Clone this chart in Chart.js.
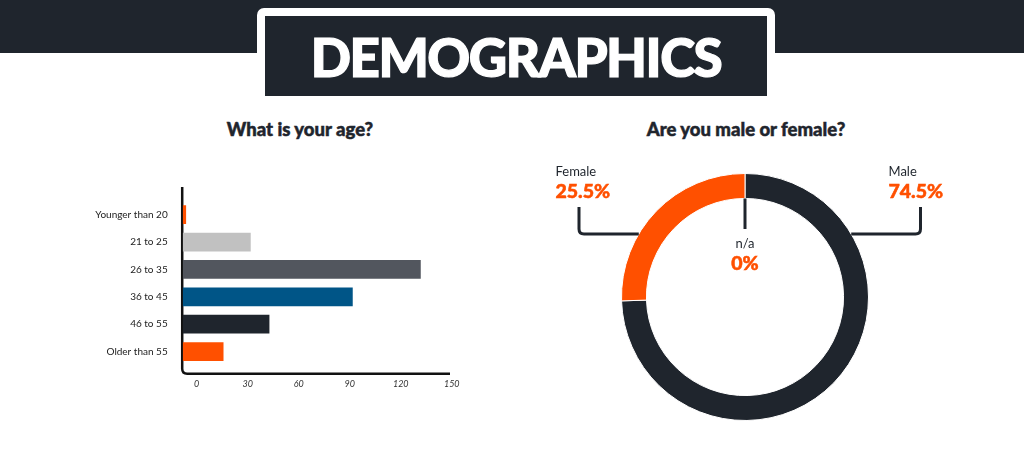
<!DOCTYPE html>
<html lang="en">
<head>
    <meta charset="UTF-8">
    <title>Demographics</title>
    <script src="https://cdn.jsdelivr.net/npm/chart.js"></script>
    <style>
        body {
            margin: 0;
            width: 1024px;
            height: 454px;
            overflow: hidden;
            background: #fff;
            font-family: Lato, "Open Sans", sans-serif;
            position: relative;
        }
        .band {
            position: absolute; left: 0; top: 0; width: 1024px; height: 53px;
            background: #1f252d;
        }
        .banner-frame {
            position: absolute; left: 257px; top: 8px; width: 518px; height: 89px;
            background: #fff; border-radius: 7px 7px 0 0;
        }
        .banner {
            position: absolute; left: 265px; top: 16px; width: 502px; height: 80px;
            background: #1f252d; color: #fff;
            font-weight: 900; font-size: 53px; line-height: 82px;
            text-align: center; letter-spacing: -1.5px;
            -webkit-text-stroke: 1.2px #fff;
        }
        .title {
            position: absolute; top: 118px; width: 300px;
            font-weight: 900; font-size: 18.5px; color: #1f252d;
            text-align: center;
            -webkit-text-stroke: 0.5px #1f252d;
        }
        .chart-box { position: absolute; }
    </style>
</head>
<body>
    <div class="band"></div>
    <div class="banner-frame"></div>
    <div class="banner">DEMOGRAPHICS</div>

    <div class="title" style="left:150px;">What is your age?</div>
    <div class="title" style="left:596px;">Are you male or female?</div>

    <div class="chart-box" style="left:60px; top:180px; width:420px; height:230px;">
        <canvas id="ageChart"></canvas>
    </div>
    <div class="chart-box" style="left:535px; top:150px; width:420px; height:294px;">
        <canvas id="genderChart"></canvas>
    </div>

<script>
const ageLabels = ['Younger than 20', '21 to 25', '26 to 35', '36 to 45', '46 to 55', 'Older than 55'];
const ageValues = [2, 40, 140, 100, 51, 24];
const ageColors = ['#ff5000', '#c1c1c1', '#52565e', '#005587', '#1f252d', '#ff5000'];
const ageTicks = [0, 30, 60, 90, 120, 150];

const genderLabels = ['Male', 'Female', 'n/a'];
const genderValues = [74.5, 25.5, 0];
const genderColors = ['#1f252d', '#ff5000', '#c1c1c1'];

Chart.defaults.font.family = 'Lato, "Open Sans", sans-serif';
Chart.defaults.animation = false;

// L-shaped axis with a rounded corner
const axisFrame = {
    id: 'axisFrame',
    beforeDatasetsDraw(chart) {
        const { ctx, chartArea: a } = chart;
        const x0 = a.left - 0.5, yTop = a.top - 14, yBot = a.bottom + 8.5, r = 5;
        ctx.save();
        ctx.strokeStyle = '#111';
        ctx.lineWidth = 2.5;
        ctx.beginPath();
        ctx.moveTo(x0, yTop);
        ctx.lineTo(x0, yBot - r);
        ctx.quadraticCurveTo(x0, yBot, x0 + r, yBot);
        ctx.lineTo(a.right, yBot);
        ctx.stroke();
        ctx.restore();
    }
};

new Chart(document.getElementById('ageChart'), {
    type: 'bar',
    data: {
        labels: ageLabels,
        datasets: [{
            data: ageValues,
            backgroundColor: ageColors,
            categoryPercentage: 1,
            barPercentage: 0.684
        }]
    },
    options: {
        indexAxis: 'y',
        responsive: true,
        maintainAspectRatio: false,
        layout: { padding: { top: 11.5, right: 30, left: 0, bottom: 0 } },
        plugins: { legend: { display: false }, tooltip: { enabled: false } },
        scales: {
            x: {
                type: 'linear',
                min: 0,
                max: 157.2,
                afterBuildTicks: s => { s.ticks = ageTicks.map(v => ({ value: v })); },
                afterFit: s => { s.height = 44.75; },
                grid: { display: false, drawTicks: false },
                border: { display: false },
                ticks: {
                    labelOffset: 14,
                    padding: 13,
                    color: '#333',
                    font: { size: 9, style: 'italic' }
                }
            },
            y: {
                afterFit: s => { s.width = 122.7; },
                grid: { display: false, drawTicks: false },
                border: { display: false },
                ticks: {
                    padding: 15,
                    color: '#222',
                    font: { size: 10 }
                }
            }
        }
    },
    plugins: [axisFrame]
});

// callout labels around the doughnut
const callouts = {
    id: 'callouts',
    afterDatasetsDraw(chart) {
        const { ctx } = chart;
        const arcs = chart.getDatasetMeta(0).data;
        const cx = arcs[0].x, cy = arcs[0].y;
        const R = arcs[0].outerRadius, r0 = arcs[0].innerRadius;
        const lineY = cy - 63, rad = 5;
        const dx = Math.sqrt(R * R - 63 * 63);
        const vals = chart.data.datasets[0].data;
        const labs = chart.data.labels;

        ctx.save();
        ctx.strokeStyle = '#1f252d';
        ctx.lineWidth = 3;
        // Male bracket (right)
        const xr = cx + 175.5;
        ctx.beginPath();
        ctx.moveTo(xr, cy - 90);
        ctx.lineTo(xr, lineY - rad);
        ctx.quadraticCurveTo(xr, lineY, xr - rad, lineY);
        ctx.lineTo(cx + dx, lineY);
        ctx.stroke();
        // Female bracket (left)
        const xl = cx - 166;
        ctx.beginPath();
        ctx.moveTo(xl, cy - 90);
        ctx.lineTo(xl, lineY - rad);
        ctx.quadraticCurveTo(xl, lineY, xl + rad, lineY);
        ctx.lineTo(cx - dx, lineY);
        ctx.stroke();
        // n/a stick
        ctx.beginPath();
        ctx.moveTo(cx, cy - r0);
        ctx.lineTo(cx, cy - 68);
        ctx.stroke();

        const place = [
            { x: cx + 143.5, align: 'left', y: cy - 125 },
            { x: cx - 189.5, align: 'left', y: cy - 125 },
            { x: cx, align: 'center', y: cy - 53 }
        ];
        ctx.textBaseline = 'middle';
        place.forEach((p, i) => {
            ctx.textAlign = p.align;
            ctx.fillStyle = '#1f252d';
            ctx.font = '13px Lato, sans-serif';
            ctx.fillText(labs[i], p.x, p.y);
            ctx.fillStyle = '#ff5000';
            ctx.strokeStyle = '#ff5000';
            ctx.lineWidth = 0.5;
            ctx.font = '900 19.5px Lato, sans-serif';
            ctx.fillText(vals[i] + '%', p.x, p.y + 19.5);
            ctx.strokeText(vals[i] + '%', p.x, p.y + 19.5);
        });
        ctx.restore();
    }
};

new Chart(document.getElementById('genderChart'), {
    type: 'doughnut',
    data: {
        labels: genderLabels,
        datasets: [{
            data: genderValues,
            backgroundColor: genderColors,
            borderColor: '#fff',
            borderWidth: 1,
            radius: 123.5,
            cutout: '79.8%'
        }]
    },
    options: {
        responsive: true,
        maintainAspectRatio: false,
        plugins: { legend: { display: false }, tooltip: { enabled: false } }
    },
    plugins: [callouts]
});
</script>
</body>
</html>
